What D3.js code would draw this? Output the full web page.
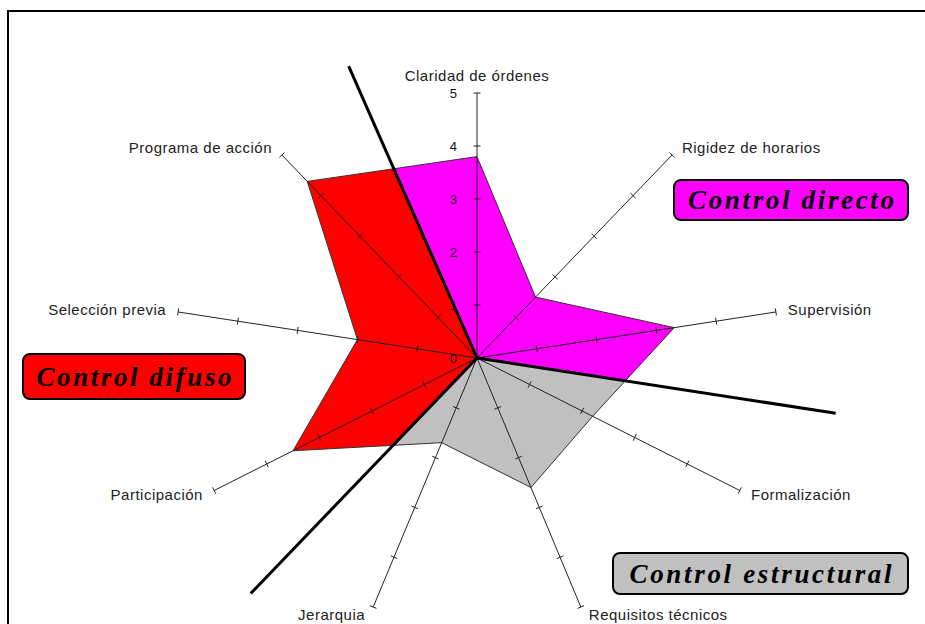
<!DOCTYPE html>
<html>
<head>
<meta charset="utf-8">
<script src="https://cdn.jsdelivr.net/npm/d3@7"></script>
<style>
  body { margin: 0; background: #fff; }
  svg { display: block; }
</style>
</head>
<body>
<div id="canvas"></div>
<script>
var width = 925, height = 624;

// one value per spoke, clockwise from the top
var axes = ["Claridad de órdenes", "Rigidez de horarios", "Supervisión", "Formalización",
            "Requisitos técnicos", "Jerarquia", "Participación", "Selección previa", "Programa de acción"];
var values = [3.8, 1.5, 3.3, 2.2, 2.6, 1.7, 3.5, 2.0, 4.35];
var ticks = [1, 2, 3, 4, 5];

// the three groups, as angle ranges (degrees) and their label
var groups = ["Control directo", "Control estructural", "Control difuso"];
var groupFrom = [-21, 100, 220];
var groupTo = [100, 220, 339];
var groupColors = ["#ff00ff", "#c0c0c0", "#ff0000"];
// thick dividing lines: angle and length (in value units)
var dividerAngles = [339, 100, 220];
var dividerLengths = [5.9, 6.0, 5.8];

var cx = 477, cy = 358;

// the plot is stretched sideways, so x and y have their own radial scale
var rx = d3.scaleLinear().domain([0, 5]).range([0, 303.5]);
var ry = d3.scaleLinear().domain([0, 5]).range([0, 265]);
var angle = d3.scaleLinear().domain([0, axes.length]).range([0, 360]);

function pt(deg, v){
    var a = deg * Math.PI / 180;
    return [cx + rx(v) * Math.sin(a), cy - ry(v) * Math.cos(a)];
}

var svg = d3.select("#canvas").append("svg").attr("width", width).attr("height", height);

// frame
svg.append("path")
    .attr("d", "M8," + height + "V11H" + width)
    .attr("fill", "none").attr("stroke", "#000").attr("stroke-width", 2);

var defs = svg.append("defs");
groups.forEach(function(g, i){
    var pts = [[cx, cy]];
    for (var a = groupFrom[i]; a < groupTo[i]; a += 10) pts.push(pt(a, 20));
    pts.push(pt(groupTo[i], 20));
    defs.append("clipPath").attr("id", "clip" + i)
        .append("path").attr("d", "M" + pts.join("L") + "Z");
});

var line = d3.line()
    .x(function(d, i){ return pt(angle(i), d)[0]; })
    .y(function(d, i){ return pt(angle(i), d)[1]; })
    .curve(d3.curveLinearClosed);

// filled shape, coloured by group
groups.forEach(function(g, i){
    svg.append("path")
        .attr("d", line(values))
        .attr("fill", groupColors[i])
        .attr("stroke", "none")
        .attr("clip-path", "url(#clip" + i + ")");
});

// spokes and their ticks
var spoke = svg.selectAll("g.spoke").data(axes).enter().append("g").attr("class", "spoke");
spoke.append("line")
    .attr("x1", cx).attr("y1", cy)
    .attr("x2", function(d, i){ return pt(angle(i), 5)[0]; })
    .attr("y2", function(d, i){ return pt(angle(i), 5)[1]; })
    .attr("stroke", "#222").attr("stroke-width", 1);

spoke.each(function(d, i){
    var end = pt(angle(i), 5);
    var ux = (end[0] - cx), uy = (end[1] - cy), len = Math.sqrt(ux * ux + uy * uy);
    var nx = -uy / len * 3.5, ny = ux / len * 3.5;
    d3.select(this).selectAll("line.tick").data(ticks).enter().append("line")
        .attr("class", "tick")
        .attr("x1", function(t){ return pt(angle(i), t)[0] - nx; })
        .attr("y1", function(t){ return pt(angle(i), t)[1] - ny; })
        .attr("x2", function(t){ return pt(angle(i), t)[0] + nx; })
        .attr("y2", function(t){ return pt(angle(i), t)[1] + ny; })
        .attr("stroke", "#222").attr("stroke-width", 1);
});

// outline of the shape
svg.append("path")
    .attr("d", line(values))
    .attr("fill", "none")
    .attr("stroke", "#333")
    .attr("stroke-width", 1);

// thick dividers
svg.selectAll("line.divider").data(dividerAngles).enter().append("line")
    .attr("class", "divider")
    .attr("x1", cx).attr("y1", cy)
    .attr("x2", function(d, i){ return pt(d, dividerLengths[i])[0]; })
    .attr("y2", function(d, i){ return pt(d, dividerLengths[i])[1]; })
    .attr("stroke", "#000").attr("stroke-width", 3);

// value labels on the top spoke
var yAxis = d3.scaleLinear().domain([0, 5]).range([cy, cy - ry(5)]);
var ax = svg.append("g")
    .attr("transform", "translate(" + cx + ",0)")
    .call(d3.axisLeft(yAxis).ticks(5).tickSize(0).tickPadding(20));
ax.select(".domain").remove();
ax.selectAll("text")
    .attr("font-family", "Liberation Sans, Arial, sans-serif")
    .attr("font-size", 13)
    .attr("fill", "#111");

// spoke names
svg.selectAll("text.axis-label").data(axes).enter().append("text")
    .attr("class", "axis-label")
    .attr("font-family", "Liberation Sans, Arial, sans-serif")
    .attr("font-size", 15)
    .attr("letter-spacing", 0.5)
    .attr("fill", "#222")
    .attr("text-anchor", function(d, i){
        var s = Math.sin(angle(i) * Math.PI / 180);
        return s > 0.1 ? "start" : s < -0.1 ? "end" : "middle";
    })
    .attr("x", function(d, i){
        var a = angle(i) * Math.PI / 180, s = Math.sin(a);
        var off = Math.abs(s) > 0.1 ? (6 + 6 * Math.abs(s)) * Math.sign(s) : 0;
        return pt(angle(i), 5)[0] + off;
    })
    .attr("y", function(d, i){
        var a = angle(i) * Math.PI / 180, c = Math.cos(a);
        if (Math.abs(Math.sin(a)) <= 0.1) return pt(angle(i), 5)[1] - 12;
        return pt(angle(i), 5)[1] + 5 - 9 * c;
    })
    .text(function(d){ return d; });

// group boxes
var boxX = [674, 613, 23], boxY = [180, 553, 354], boxW = [234, 295, 222], boxH = [40, 41, 45];
var textW = [206, 262, 195];
groups.forEach(function(g, i){
    svg.append("rect")
        .attr("x", boxX[i]).attr("y", boxY[i])
        .attr("width", boxW[i]).attr("height", boxH[i])
        .attr("rx", 7).attr("ry", 7)
        .attr("fill", groupColors[i])
        .attr("stroke", "#000").attr("stroke-width", 2);
    svg.append("text")
        .attr("x", boxX[i] + boxW[i] / 2)
        .attr("y", boxY[i] + boxH[i] / 2 + 9)
        .attr("text-anchor", "middle")
        .attr("font-family", "Liberation Serif, Times New Roman, serif")
        .attr("font-style", "italic")
        .attr("font-weight", "bold")
        .attr("font-size", 27)
        .attr("textLength", textW[i])
        .attr("lengthAdjust", "spacing")
        .attr("fill", "#000")
        .text(g);
});
</script>
</body>
</html>
